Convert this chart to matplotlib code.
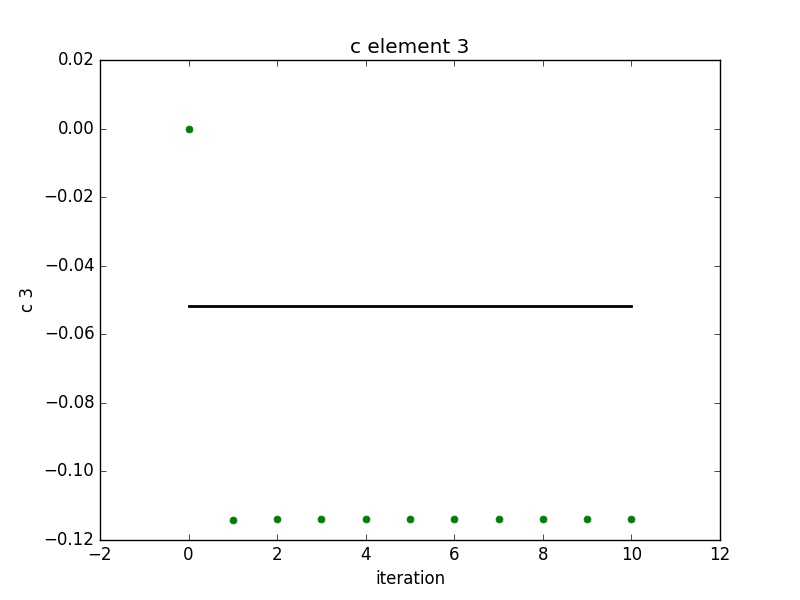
import numpy as np
import matplotlib
matplotlib.use('Agg')
import matplotlib.pyplot as plt

plt.style.use('classic')

# c element 3 per iteration
iterations = [0, 1, 2, 3, 4, 5, 6, 7, 8, 9, 10]
c3 = [0.0, -0.1143, -0.1139, -0.1139, -0.1139, -0.1139, -0.1139, -0.1139, -0.1139, -0.1139, -0.1139]
target = -0.0518  # reference value (black line)

fig, ax = plt.subplots(figsize=(8, 6), dpi=100)
ax.plot(iterations, c3, 'o', color='g', markeredgecolor='g', markersize=5)
ax.plot([iterations[0], iterations[-1]], [target, target], 'k-', lw=2)
ax.set_xlim(-2, 12)
ax.set_ylim(-0.12, 0.02)
ax.set_xlabel('iteration')
ax.set_ylabel('c 3')
ax.set_title('c element 3')
fig.savefig('out.png', dpi=100)
